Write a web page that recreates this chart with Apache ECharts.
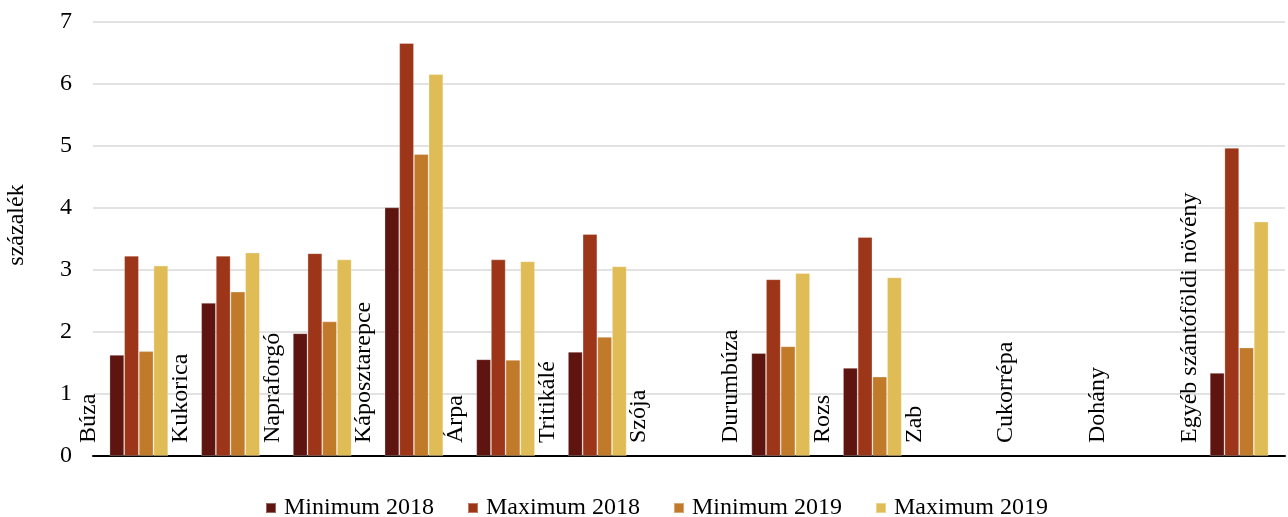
<!DOCTYPE html>
<html>
<head>
<meta charset="utf-8">
<script src="https://cdn.jsdelivr.net/npm/echarts@6/dist/echarts.min.js"></script>
<style>
html,body{margin:0;padding:0;background:#fff;}
#chart{width:1288px;height:517px;}
</style>
</head>
<body>
<div id="chart"></div>
<script>
const categories = ['Búza','Kukorica','Napraforgó','Káposztarepce','Árpa','Tritikálé','Szója','Durumbúza','Rozs','Zab','Cukorrépa','Dohány','Egyéb szántóföldi növény'];
const seriesNames = ['Minimum 2018','Maximum 2018','Minimum 2019','Maximum 2019'];
const min2018 = [1.63, 2.47, 1.98, 4.01, 1.56, 1.68, null, 1.66, 1.42, null, null, null, 1.34];
const max2018 = [3.23, 3.23, 3.27, 6.66, 3.17, 3.58, null, 2.85, 3.53, null, null, null, 4.97];
const min2019 = [1.69, 2.65, 2.17, 4.87, 1.55, 1.92, null, 1.77, 1.28, null, null, null, 1.75];
const max2019 = [3.07, 3.28, 3.17, 6.16, 3.14, 3.06, null, 2.95, 2.88, null, null, null, 3.78];
const yTicks = [0,1,2,3,4,5,6,7];
const colors = ['#5e150f','#9d3518','#c17a29','#e0bc56'];

const FONT = '"Liberation Serif","Times New Roman",serif';
const chart = echarts.init(document.getElementById('chart'), null, {renderer:'canvas'});
const values = [min2018, max2018, min2019, max2019];

chart.setOption({
  backgroundColor:'#fff',
  animation:false,
  color: colors,
  textStyle:{fontFamily:FONT},
  grid:[
    {left:93, right:3, top:22, bottom:61, containLabel:false, outerBoundsMode:'none'},
    {left:89, right:7, top:22, bottom:61, containLabel:false, outerBoundsMode:'none'}
  ],
  legend:{
    data: seriesNames,
    top: 491,
    left: 260,
    icon: 'rect',
    itemWidth: 10,
    itemHeight: 10,
    itemGap: 33,
    textStyle:{fontFamily:FONT, fontSize:24, color:'#000', padding:[0,0,0,3]}
  },
  xAxis:[{
    type:'category',
    gridIndex:0,
    data: categories,
    boundaryGap:true,
    axisLine:{show:true, lineStyle:{color:'#000', width:2}},
    axisTick:{show:false},
    axisLabel:{show:false},
    splitLine:{show:false}
  },{
    type:'value',
    gridIndex:1,
    min:0, max:categories.length, interval:1,
    position:'bottom',
    axisLine:{show:false},
    axisTick:{show:false},
    splitLine:{show:false},
    axisLabel:{
      show:true, inside:true, rotate:90, margin:13,
      showMinLabel:true, showMaxLabel:true,
      fontFamily:FONT, fontSize:24, color:'#000',
      formatter:function(v){ return categories[Math.round(v)] || ''; }
    }
  }],
  yAxis:[{
    type:'value',
    gridIndex:0,
    min:yTicks[0], max:yTicks[yTicks.length-1], interval:1,
    name:'százalék',
    nameLocation:'middle',
    nameRotate:90,
    nameGap:64,
    nameTextStyle:{fontFamily:FONT, fontSize:24, color:'#000', padding:[0,0,0,28]},
    axisLine:{show:false},
    axisTick:{show:false},
    axisLabel:{fontFamily:FONT, fontSize:24, color:'#000', margin:21},
    splitLine:{show:true, lineStyle:{color:'#d9d9d9', width:1.5}}
  },{
    type:'value',
    gridIndex:1,
    min:0, max:1, show:false
  }],
  series: seriesNames.map((n,i)=>({
    name:n,
    type:'bar',
    xAxisIndex:0,
    yAxisIndex:0,
    data: values[i],
    barGap:'0%',
    barCategoryGap:'36%',
    itemStyle:{color:colors[i], borderColor:'rgba(255,255,255,0.35)', borderWidth:0.8}
  }))
});
</script>
</body>
</html>
